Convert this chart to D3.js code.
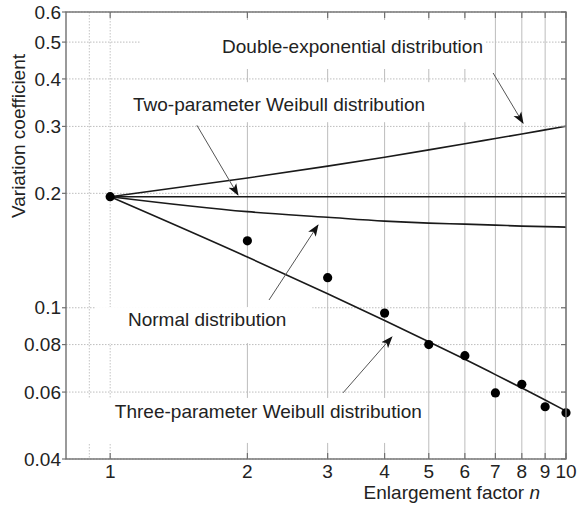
<!DOCTYPE html>
<html>
<head>
<meta charset="utf-8">
<script src="https://cdn.jsdelivr.net/npm/d3@7"></script>
<style>
  body { margin: 0; background: #fff; }
  svg { display: block; font-family: "Liberation Sans", Arial, Helvetica, sans-serif; }
</style>
</head>
<body>
<div id="chart"></div>
<script>
// enlargement factor n
const nValues = [1, 2, 3, 4, 5, 6, 7, 8, 9, 10];
// model curves (variation coefficient)
const doubleExp = [0.196, 0.2195, 0.2358, 0.249, 0.2602, 0.270, 0.2788, 0.2866, 0.2938, 0.3004];
const twoParamWeibull = [0.196, 0.196, 0.196, 0.196, 0.196, 0.196, 0.196, 0.196, 0.196, 0.196];
const normalDist = [0.196, 0.179, 0.173, 0.169, 0.167, 0.166, 0.165, 0.164, 0.1635, 0.163];
const threeParamWeibull = [0.196, 0.136, 0.1088, 0.0926, 0.0814, 0.0732, 0.0667, 0.0615, 0.0572, 0.0535];
// measured points
const observed = [0.196, 0.150, 0.120, 0.0968, 0.080, 0.0748, 0.0597, 0.0629, 0.0549, 0.0529];

const xTicks = [1, 2, 3, 4, 5, 6, 7, 8, 9, 10];
const xGridDotted = [0.9, 1];
const yTicks = [0.04, 0.06, 0.08, 0.1, 0.2, 0.3, 0.4, 0.5, 0.6];
const yTickLabels = ["0.04", "0.06", "0.08", "0.1", "0.2", "0.3", "0.4", "0.5", "0.6"];

// annotation labels: text start (n, v) + arrow from/to in data units
const labels = [
  { text: "Double-exponential distribution", n: 1.76, v: 0.468, pad: [82, 16, 2, 12],
    from: [6.92, 0.4146], to: [8.05, 0.306] },
  { text: "Two-parameter Weibull distribution", n: 1.122, v: 0.329, pad: [22, 12, 57, 7],
    from: [1.55, 0.302], to: [1.907, 0.198] },
  { text: "Normal distribution", n: 1.094, v: 0.0895, pad: [33, 2, 26, 13],
    from: [2.231, 0.1048], to: [2.857, 0.165] },
  { text: "Three-parameter Weibull distribution", n: 1.024, v: 0.0513, pad: [40, 3, 4, 21],
    from: [3.241, 0.0597], to: [4.15, 0.0838] }
];

const width = 578, height = 506;
const plot = { left: 66, right: 566, top: 12, bottom: 459 };

const x = d3.scaleLog().domain([0.8, 10]).range([plot.left, plot.right]);
const y = d3.scaleLog().domain([0.04, 0.6]).range([plot.bottom, plot.top]);

const svg = d3.select('#chart').append('svg')
    .attr('width', width)
    .attr('height', height);

const defs = svg.append('defs');
defs.append('marker')
    .attr('id', 'head')
    .attr('viewBox', '0 -5 12 10')
    .attr('refX', 11)
    .attr('refY', 0)
    .attr('markerWidth', 12)
    .attr('markerHeight', 10)
    .attr('markerUnits', 'userSpaceOnUse')
    .attr('orient', 'auto')
    .append('path')
    .attr('d', 'M0,-4.5L12,0L0,4.5L3,0Z')
    .attr('fill', '#111');

// grid
const grid = svg.append('g');
grid.selectAll('.hg').data(yTicks).enter().append('line')
    .attr('x1', plot.left).attr('x2', plot.right)
    .attr('y1', d => y(d)).attr('y2', d => y(d))
    .attr('stroke', '#bdbdbd').attr('stroke-width', 1)
    .attr('stroke-dasharray', '1.5,1.5');
grid.selectAll('.vgd').data(xGridDotted).enter().append('line')
    .attr('x1', d => x(d)).attr('x2', d => x(d))
    .attr('y1', plot.top).attr('y2', plot.bottom)
    .attr('stroke', '#c4c4c4').attr('stroke-width', 1)
    .attr('stroke-dasharray', '1.5,1.5');
grid.selectAll('.vg').data(xTicks.slice(1)).enter().append('line')
    .attr('x1', d => x(d)).attr('x2', d => x(d))
    .attr('y1', plot.top).attr('y2', plot.bottom)
    .attr('stroke', '#bcbcbc').attr('stroke-width', 1);

// white boxes behind the labels (they hide the grid in the original)
const boxLayer = svg.append('g');

// curves
const line = d3.line()
    .x(d => x(d[0]))
    .y(d => y(d[1]))
    .curve(d3.curveMonotoneX);

const series = [doubleExp, twoParamWeibull, normalDist, threeParamWeibull];
svg.append('g').selectAll('path').data(series).enter().append('path')
    .attr('d', s => line(nValues.map((n, i) => [n, s[i]])))
    .attr('fill', 'none')
    .attr('stroke', '#1a1a1a')
    .attr('stroke-width', 1.6);

// points
svg.append('g').selectAll('circle').data(nValues.map((n, i) => [n, observed[i]])).enter()
    .append('circle')
    .attr('cx', d => x(d[0]))
    .attr('cy', d => y(d[1]))
    .attr('r', 4.6)
    .attr('fill', '#000');

const textLayer = svg.append('g');

// labels + arrows
labels.forEach(l => {
    const t = textLayer.append('text')
        .attr('x', x(l.n))
        .attr('y', y(l.v))
        .attr('font-size', 19)
        .attr('fill', '#222')
        .text(l.text);
    const b = t.node().getBBox();
    boxLayer.append('rect')
        .attr('x', b.x - l.pad[0])
        .attr('y', b.y - l.pad[1])
        .attr('width', b.width + l.pad[0] + l.pad[2])
        .attr('height', b.height + l.pad[1] + l.pad[3])
        .attr('fill', '#fff');
    svg.append('line')
        .attr('x1', x(l.from[0])).attr('y1', y(l.from[1]))
        .attr('x2', x(l.to[0])).attr('y2', y(l.to[1]))
        .attr('stroke', '#555')
        .attr('stroke-width', 1)
        .attr('marker-end', 'url(#head)');
});

// frame
svg.append('rect')
    .attr('x', plot.left).attr('y', plot.top)
    .attr('width', plot.right - plot.left).attr('height', plot.bottom - plot.top)
    .attr('fill', 'none')
    .attr('stroke', '#707070')
    .attr('stroke-width', 1.4);

// y ticks: outward on left, inward on right
const yAx = svg.append('g');
yAx.selectAll('.tl').data(yTicks).enter().append('line')
    .attr('x1', plot.left - 4).attr('x2', plot.left)
    .attr('y1', d => y(d)).attr('y2', d => y(d))
    .attr('stroke', '#707070').attr('stroke-width', 1.2);
yAx.selectAll('.tr').data(yTicks).enter().append('line')
    .attr('x1', plot.right - 5).attr('x2', plot.right)
    .attr('y1', d => y(d)).attr('y2', d => y(d))
    .attr('stroke', '#707070').attr('stroke-width', 1.2);
yAx.selectAll('text').data(yTicks).enter().append('text')
    .attr('x', plot.left - 5)
    .attr('y', d => y(d))
    .attr('dy', '0.35em')
    .attr('text-anchor', 'end')
    .attr('font-size', 19)
    .attr('fill', '#222')
    .text((d, i) => yTickLabels[i]);

// x ticks: inward at bottom and top
const xAx = svg.append('g');
xAx.selectAll('.tb').data(xTicks).enter().append('line')
    .attr('x1', d => x(d)).attr('x2', d => x(d))
    .attr('y1', plot.bottom - 6).attr('y2', plot.bottom)
    .attr('stroke', '#707070').attr('stroke-width', 1.2);
xAx.selectAll('.tt').data(xTicks).enter().append('line')
    .attr('x1', d => x(d)).attr('x2', d => x(d))
    .attr('y1', plot.top).attr('y2', plot.top + 6)
    .attr('stroke', '#707070').attr('stroke-width', 1.2);
xAx.selectAll('text').data(xTicks).enter().append('text')
    .attr('x', d => x(d))
    .attr('y', plot.bottom + 19)
    .attr('text-anchor', 'middle')
    .attr('font-size', 19)
    .attr('fill', '#222')
    .text(d => d);

// axis titles
const xt = svg.append('text')
    .attr('x', 540)
    .attr('y', 499)
    .attr('text-anchor', 'end')
    .attr('font-size', 19)
    .attr('fill', '#222')
    .text('Enlargement factor ');
xt.append('tspan').attr('font-style', 'italic').text('n');

svg.append('text')
    .attr('transform', 'translate(25,136) rotate(-90)')
    .attr('text-anchor', 'middle')
    .attr('font-size', 19)
    .attr('fill', '#222')
    .text('Variation coefficient');
</script>
</body>
</html>
